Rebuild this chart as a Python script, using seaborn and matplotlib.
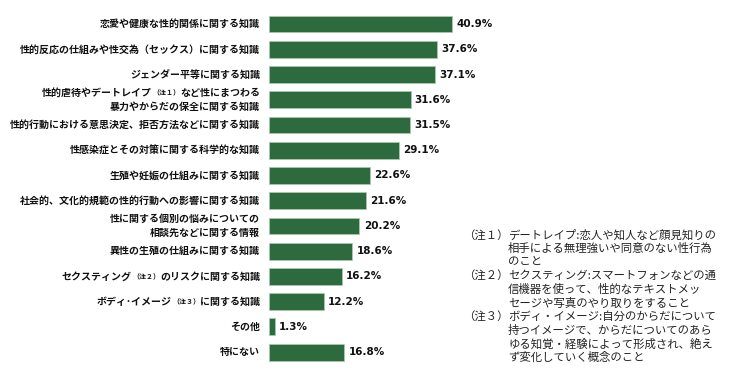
import re

import matplotlib
matplotlib.use("Agg")
import matplotlib.pyplot as plt
import pandas as pd
import seaborn as sns

# data
categories = [
    "恋愛や健康な性的関係に関する知識",
    "性的反応の仕組みや性交為（セックス）に関する知識",
    "ジェンダー平等に関する知識",
    "性的虐待やデートレイプ[注１]など性にまつわる\n暴力やからだの保全に関する知識",
    "性的行動における意思決定、拒否方法などに関する知識",
    "性感染症とその対策に関する科学的な知識",
    "生殖や妊娠の仕組みに関する知識",
    "社会的、文化的規範の性的行動への影響に関する知識",
    "性に関する個別の悩みについての\n相談先などに関する情報",
    "異性の生殖の仕組みに関する知識",
    "セクスティング[注２]のリスクに関する知識",
    "ボディ･イメージ[注３]に関する知識",
    "その他",
    "特にない",
]
values = [40.9, 37.6, 37.1, 31.6, 31.5, 29.1, 22.6, 21.6, 20.2, 18.6, 16.2, 12.2, 1.3, 16.8]

note_marks = ["（注１）", "（注２）", "（注３）"]
note_lines = [
    ["デートレイプ:恋人や知人など顔見知りの", "相手による無理強いや同意のない性行為", "のこと"],
    ["セクスティング:スマートフォンなどの通", "信機器を使って、性的なテキストメッ", "セージや写真のやり取りをすること"],
    ["ボディ・イメージ:自分のからだについて", "持つイメージで、からだについてのあら", "ゆる知覚・経験によって形成され、絶え", "ず変化していく概念のこと"],
]

GREEN = "#2d6a3e"

sns.set_style("white")
plt.rcParams["font.family"] = ["Noto Sans CJK JP", "DejaVu Sans"]

df = pd.DataFrame({"item": [str(i) for i in range(len(categories))], "pct": values})

W, H = 750, 372
fig = plt.figure(figsize=(W / 100, H / 100), dpi=100)
ax_left, ax_top, ax_bot = 269, 11.4, 364.8
ax = fig.add_axes([ax_left / W, (H - ax_bot) / H, (W - ax_left) / W, (ax_bot - ax_top) / H])

sns.barplot(data=df, y="item", x="pct", orient="h", color=GREEN, saturation=1,
            width=0.67, edgecolor="#a9c7b0", linewidth=0.6, ax=ax)
ax.set_xlim(0, (W - ax_left) / 4.48)
ax.set_ylim(len(categories) - 0.5, -0.5)
for c in ax.containers:
    ax.bar_label(c, fmt="%.1f%%", padding=3, fontsize=7.5, fontweight="bold",
                 family="DejaVu Sans", color="#111111")

ax.set_xlabel("")
ax.set_ylabel("")
ax.set_xticks([])
ax.set_yticks([])
sns.despine(ax=ax, left=True, bottom=True)


def draw_label(y, text):
    lines = text.split("\n")
    n = len(lines)
    for li, line in enumerate(lines):
        dy = (n - 1) / 2 * 14 - li * 14
        parts = [p for p in re.split(r"(\[注.\])", line) if p]
        prev = None
        for part in reversed(parts):
            small = part.startswith("[")
            s = "（" + part[1:-1] + "）" if small else part
            size = 5.0 if small else 7.2
            if prev is None:
                prev = ax.annotate(s, xy=(0, y), xycoords=("axes fraction", "data"),
                                   xytext=(-9, dy), textcoords="offset pixels",
                                   ha="right", va="center", fontsize=size,
                                   fontweight="bold", color="#111111")
            else:
                prev = ax.annotate(s, xy=(0, 0.5), xycoords=prev, ha="right",
                                   va="center", fontsize=size, fontweight="bold",
                                   color="#111111")


for i, cat in enumerate(categories):
    draw_label(i, cat)

# notes on the lower right
y = 235
for mark, lines in zip(note_marks, note_lines):
    fig.text(463 / W, 1 - y / H, mark, fontsize=8.2, va="center", ha="left", color="#222222")
    for line in lines:
        fig.text(508 / W, 1 - y / H, line, fontsize=8.2, va="center", ha="left", color="#222222")
        y += 13.6

fig.savefig("out.png", dpi=100)
